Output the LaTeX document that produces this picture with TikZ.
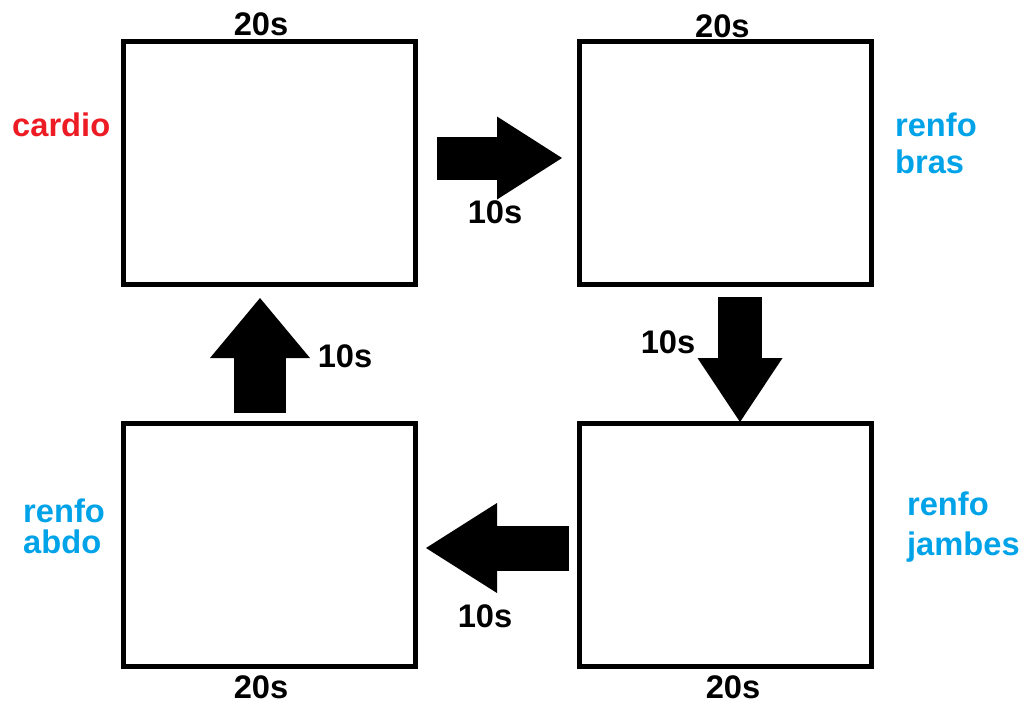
\documentclass[tikz,border=0pt]{standalone}
\usepackage{fontspec}
\setmainfont{Liberation Sans}
\usetikzlibrary{positioning,arrows.meta}
\definecolor{cardiored}{HTML}{ED1C24}
\definecolor{renfoblue}{HTML}{00A2E8}
\tikzset{
	station/.style={draw, line width=3.75pt, minimum width=219pt, minimum height=182.25pt},
	timelbl/.style={inner sep=0pt, font=\fontsize{24.5}{28.8}\selectfont\bfseries},
	side/.style={inner sep=0pt, align=left, text=renfoblue, font=\fontsize{24.5}{28.8}\selectfont\bfseries},
	flow/.style n args={3}{line width=#1, -{Triangle[width=#2, length=#3, line width=0pt]}},
}

\begin{document}
\begin{tikzpicture}[x=0.75pt, y=-0.75pt]
				\useasboundingbox (0,0) rectangle (1024,707);
				% the four stations
				\node[station] (cardio) at (269,163) {};
				\node[station, right=119.25pt of cardio] (bras) {};
				\node[station, below=100.5pt of bras] (jambes) {};
				\node[station, left=119.25pt of jambes] (abdo) {};
				% names
				\node[side, text=cardiored, left=7.5pt of cardio, yshift=28.5pt] (cardiolbl) {cardio};
				\node[side, right=16pt of bras, yshift=15pt] (braslbl) {renfo\\[-0.8pt]bras};
				\node[side, right=25pt of jambes, yshift=13.5pt] (jambeslbl) {renfo\\[1.2pt]jambes};
				\node[side, left=11.5pt of abdo, yshift=14pt] (abdolbl) {renfo\\[-5.5pt]abdo};
				% effort times
				\node[timelbl, above=2pt of cardio, xshift=-6pt] (cardiot) {20s};
				\node[timelbl, above=1pt of bras, xshift=-2pt] (brast) {20s};
				\node[timelbl, below=5pt of jambes, xshift=6pt] (jambest) {20s};
				\node[timelbl, below=5pt of abdo, xshift=-6pt] (abdot) {20s};
				% rest between stations
				\coordinate (r0) at (437,158);
				\coordinate (r1) at (562,158);
				\coordinate (d0) at (740,297);
				\coordinate (d1) at (740,422);
				\coordinate (l0) at (569,548);
				\coordinate (l1) at (426,548);
				\coordinate (u0) at (260,413);
				\coordinate (u1) at (260,298);
				\draw[flow={32.25pt}{62.25pt}{48.75pt}] (r0) -- (r1);
				\draw[flow={33pt}{63.75pt}{48pt}] (d0) -- (d1);
				\draw[flow={33.75pt}{67.5pt}{53.25pt}] (l0) -- (l1);
				\draw[flow={39pt}{75pt}{45pt}] (u0) -- (u1);
				\node[timelbl] (rt) at (495,212) {10s};
				\node[timelbl] (dt) at (668,342) {10s};
				\node[timelbl] (lt) at (485,616) {10s};
				\node[timelbl] (ut) at (345,356) {10s};
\end{tikzpicture}
\end{document}
